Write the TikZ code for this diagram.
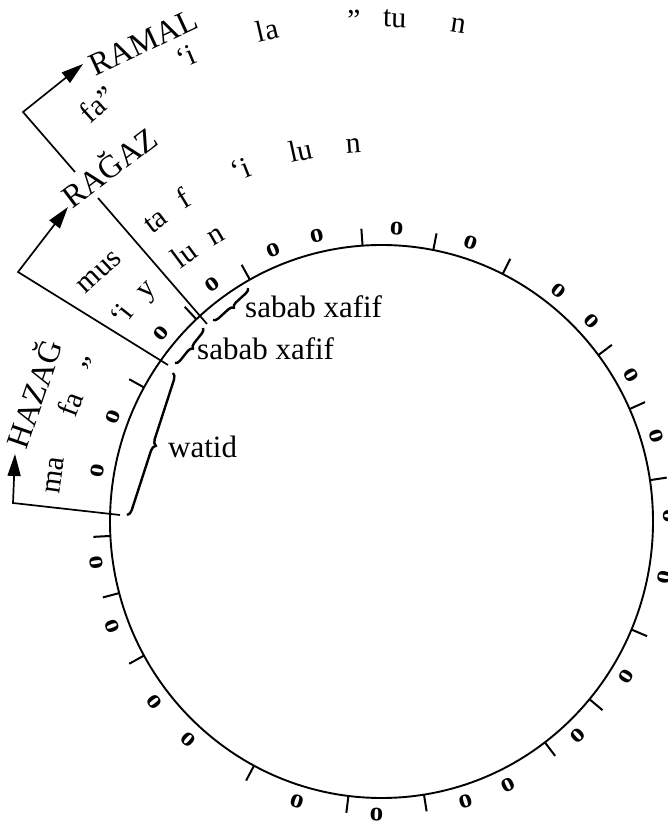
\documentclass[tikz,border=0pt]{standalone}
\usepackage{fontspec}
\setmainfont{Liberation Serif}
\usetikzlibrary{arrows.meta,decorations.pathreplacing}
\begin{document}
\begin{tikzpicture}[x=1pt,y=1pt,
  lab/.style={font=\fontsize{30}{30}\selectfont, inner sep=0pt, text height=21pt, text depth=6pt},
  capl/.style={font=\fontsize{32}{32}\selectfont, inner sep=0pt, text height=21.2pt, text depth=0pt},
  omark/.style={font=\fontsize{27}{27}\selectfont\bfseries, inner sep=0pt},
  tickmark/.style={line width=2pt},
  ring/.style={line width=1.9pt},
  conn/.style={line width=1.7pt},
  arr/.style={-{Triangle[length=22pt,width=13pt]}},
  curly/.style={decorate, decoration={brace, amplitude=#1}, line width=2.4pt},
  curly/.default=5pt,
  note/.style={font=\fontsize{31}{31}\selectfont, inner sep=0pt, anchor=base west}
]
\clip (0,0) rectangle (668,823);
\coordinate (C) at (381.5,301.5);
\begin{scope}[shift={(C)}]
  \draw[ring] (0,0) ellipse [x radius=271.5, y radius=276.5];
  % quiescent strokes
  \foreach \a in {183,151,133,119,94,79,63.5,37,24,8.6,-23,-40,-53,-81,-97,-118,-151,-165}
    \draw[tickmark] (\a:271.5 and 276.5) -- (\a:288.5 and 293.5);
  % moving letters
  \foreach \a [count=\i] in {170,159,140,126,112,103,87,72,52,43,30,17,1,-11,-32,-47,-64,-73,-91,-107,-132,-142,-159,-172}
    \node[omark, rotate=\a-90] (o\i) at (\a:288 and 293) {o};
  % HAZAG row
  \node[lab, rotate=81.9] (hma) at (171.9:330) {ma};
  \node[lab, rotate=69.3] (hfa) at (159.3:330) {fa};
  \node[lab, rotate=61.7] (hq)  at (151.7:325) {”};
  \node[lab, rotate=51.5] (hi)  at (141.5:330) {‘i};
  \node[lab, rotate=45.5] (hy)  at (135.5:330) {y};
  \node[lab, rotate=36.5] (hlu) at (126.5:330) {lu};
  \node[lab, rotate=30.1] (hn)  at (120.1:330) {n};
  % RAGAZ row
  \node[lab, rotate=43]   (rmus) at (138.5:377) {mus};
  \node[lab, rotate=36.9] (rta)  at (126.9:375) {ta};
  \node[lab, rotate=31.5] (rf)   at (121.5:377) {f};
  \node[lab, rotate=21.8] (ri)   at (111.8:377) {‘i};
  \node[lab, rotate=12.3] (rlu)  at (102.3:377) {lu};
  \node[lab, rotate=4.3]  (rn)   at (94.3:377) {n};
  % RAMAL row
  \node[lab, rotate=42]   (mfa) at (124.2:502) {fa”};
  \node[lab, rotate=22.8] (mi)  at (112.8:502) {‘i};
  \node[lab, rotate=13.1] (mla) at (103.1:502) {la};
  \node[lab, rotate=3.1]  (mq)  at (93.1:500) {”};
  \node[lab, rotate=-1.5] (mtu) at (88.5:502) {tu};
  \node[lab, rotate=-8.8] (mn)  at (81.2:502) {n};
\end{scope}

% meter names
\node[capl, rotate=25] (ramal) at (143,781) {RAMAL};
\node[capl, rotate=37] (ragaz) at (110,655) {RAĞAZ};
\node[capl, rotate=71] (hazag) at (35,429) {HAZAĞ};

% HAZAG connector
\coordinate (hz0) at (120,308);
\coordinate (hz1) at (13,320);
\coordinate (hz2) at (15,369);
\draw[conn, arr] (hz0) -- (hz1) -- (hz2);
% RAGAZ connector
\coordinate (rg0) at (168,458);
\coordinate (rg1) at (18,551);
\coordinate (rg2) at (68,616);
\draw[conn, arr] (rg0) -- (rg1) -- (rg2);
% RAMAL connector (broken by the RAGAZ label)
\coordinate (rm0) at (207,499);
\coordinate (rmA) at (98,625);
\coordinate (rmB) at (75,651);
\coordinate (rm1) at (23,711);
\coordinate (rm2) at (83,759);
\draw[conn] (rm0) -- (rmA);
\draw[conn, arr] (rmB) -- (rm1) -- (rm2);

% braces
\coordinate (b1s) at (248,535);
\coordinate (b1e) at (213,503);
\coordinate (b2s) at (203,495);
\coordinate (b2e) at (175,460);
\coordinate (b3s) at (173,450);
\coordinate (b3e) at (127,308);
\draw[curly=5pt] (b1s) -- (b1e);
\draw[curly=5pt] (b2s) -- (b2e);
\draw[curly=6pt] (b3s) -- (b3e);

\node[note] (sab1) at (245,505) {sabab xafif};
\node[note] (sab2) at (197,463) {sabab xafif};
\node[note] (wat)  at (168,365) {watid};
\end{tikzpicture}
\end{document}
